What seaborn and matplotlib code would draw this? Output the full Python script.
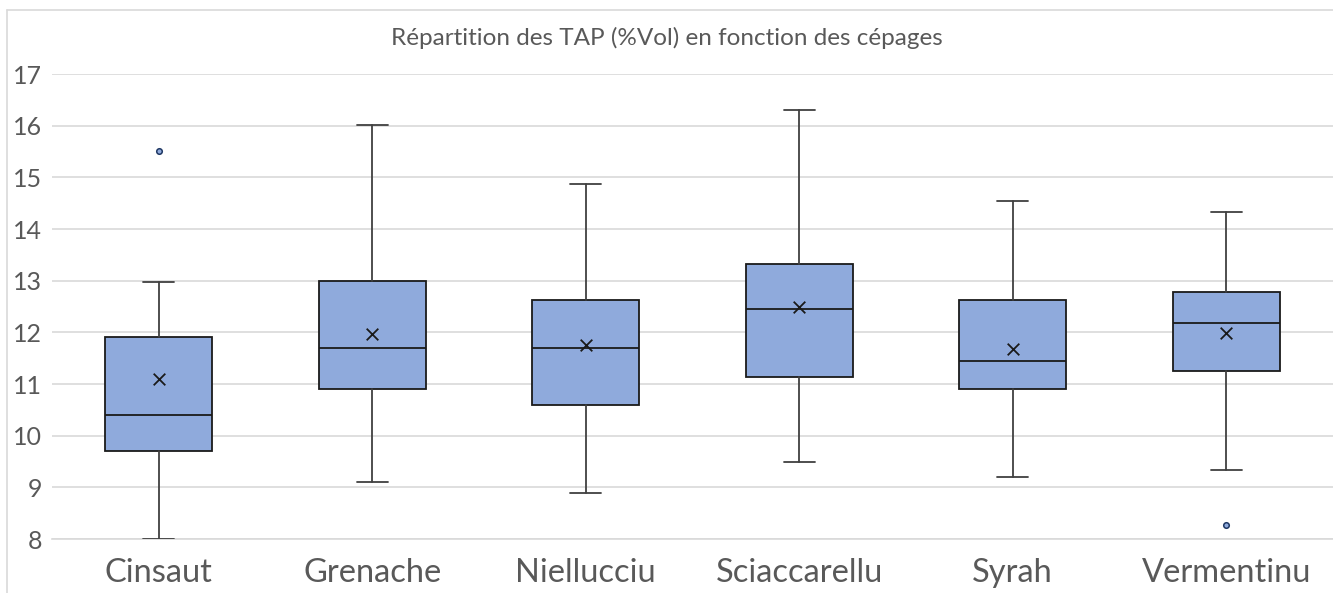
import seaborn as sns
from matplotlib import pyplot as plt
from matplotlib.lines import Line2D
import pandas as pd

# box statistics
cepages = ["Cinsaut", "Grenache", "Niellucciu", "Sciaccarellu", "Syrah", "Vermentinu"]
whis_lo = [8.0, 9.1, 8.9, 9.5, 9.2, 9.34]
q1 = [9.7, 10.9, 10.6, 11.13, 10.9, 11.26]
median = [10.4, 11.7, 11.7, 12.45, 11.45, 12.18]
q3 = [11.92, 13.0, 12.62, 13.33, 12.62, 12.78]
whis_hi = [12.97, 16.02, 14.88, 16.3, 14.54, 14.33]
mean = [11.1, 11.97, 11.76, 12.5, 11.68, 11.99]
outlier_cepage = ["Cinsaut", "Vermentinu"]
outlier_val = [15.52, 8.27]

sns.set_theme(style="whitegrid")
plt.rcParams['font.family'] = ['Lato', 'DejaVu Sans']

fig = plt.figure(figsize=(13.33, 5.93), dpi=100)
ax = fig.add_axes([0.039, 0.091, 0.961, 0.784])

stats = []
for i, c in enumerate(cepages):
    stats.append({"label": c, "whislo": whis_lo[i], "q1": q1[i], "med": median[i],
                  "q3": q3[i], "whishi": whis_hi[i], "fliers": []})

ax.bxp(stats, positions=range(len(cepages)), widths=0.5, capwidths=0.145,
       showfliers=False, patch_artist=True,
       boxprops=dict(facecolor="#8FAADC", edgecolor="#1a1a1a", linewidth=1.3),
       medianprops=dict(color="#1a1a1a", linewidth=1.3),
       whiskerprops=dict(color="#404040", linewidth=1.3),
       capprops=dict(color="#404040", linewidth=1.3), zorder=3)

means = pd.DataFrame({"cepage": cepages, "mean": mean})
sns.scatterplot(data=means, x="cepage", y="mean", marker="x", s=70, color="#1a1a1a",
                linewidth=1.3, ax=ax, zorder=4)
outl = pd.DataFrame({"cepage": outlier_cepage, "val": outlier_val})
sns.scatterplot(data=outl, x=[cepages.index(c) for c in outlier_cepage], y="val",
                s=16, color="#8FAADC", edgecolor="#1F3864", linewidth=1.1, ax=ax, zorder=4)

ax.set_xlim(-0.5, 5.5)
ax.set_ylim(8, 17)
ax.set_yticks(range(8, 18))
ax.set_xticks(range(len(cepages)))
ax.set_xticklabels(cepages)
ax.set_xlabel("")
ax.set_ylabel("")
ax.grid(axis="y", color="#D9D9D9", linewidth=1.2)
ax.grid(axis="x", visible=False)
for s in ["top", "right", "left"]:
    ax.spines[s].set_visible(False)
ax.spines["bottom"].set_color("#D9D9D9")
ax.spines["bottom"].set_linewidth(1.2)
ax.tick_params(axis="y", labelsize=18, labelcolor="#595959", pad=7, length=0)
ax.tick_params(axis="x", labelsize=23.5, labelcolor="#595959", pad=14, length=0)

fig.text(0.5, 0.936, "Répartition des TAP (%Vol) en fonction des cépages",
         ha="center", va="center", fontsize=17.5, color="#595959")

# chart area frame
fig.add_artist(Line2D([0.005, 1.0], [0.983, 0.983], color="#D9D9D9", linewidth=1.2))
fig.add_artist(Line2D([0.005, 0.005], [0.0, 0.983], color="#D9D9D9", linewidth=1.2))

fig.savefig("out.png", dpi=100)
